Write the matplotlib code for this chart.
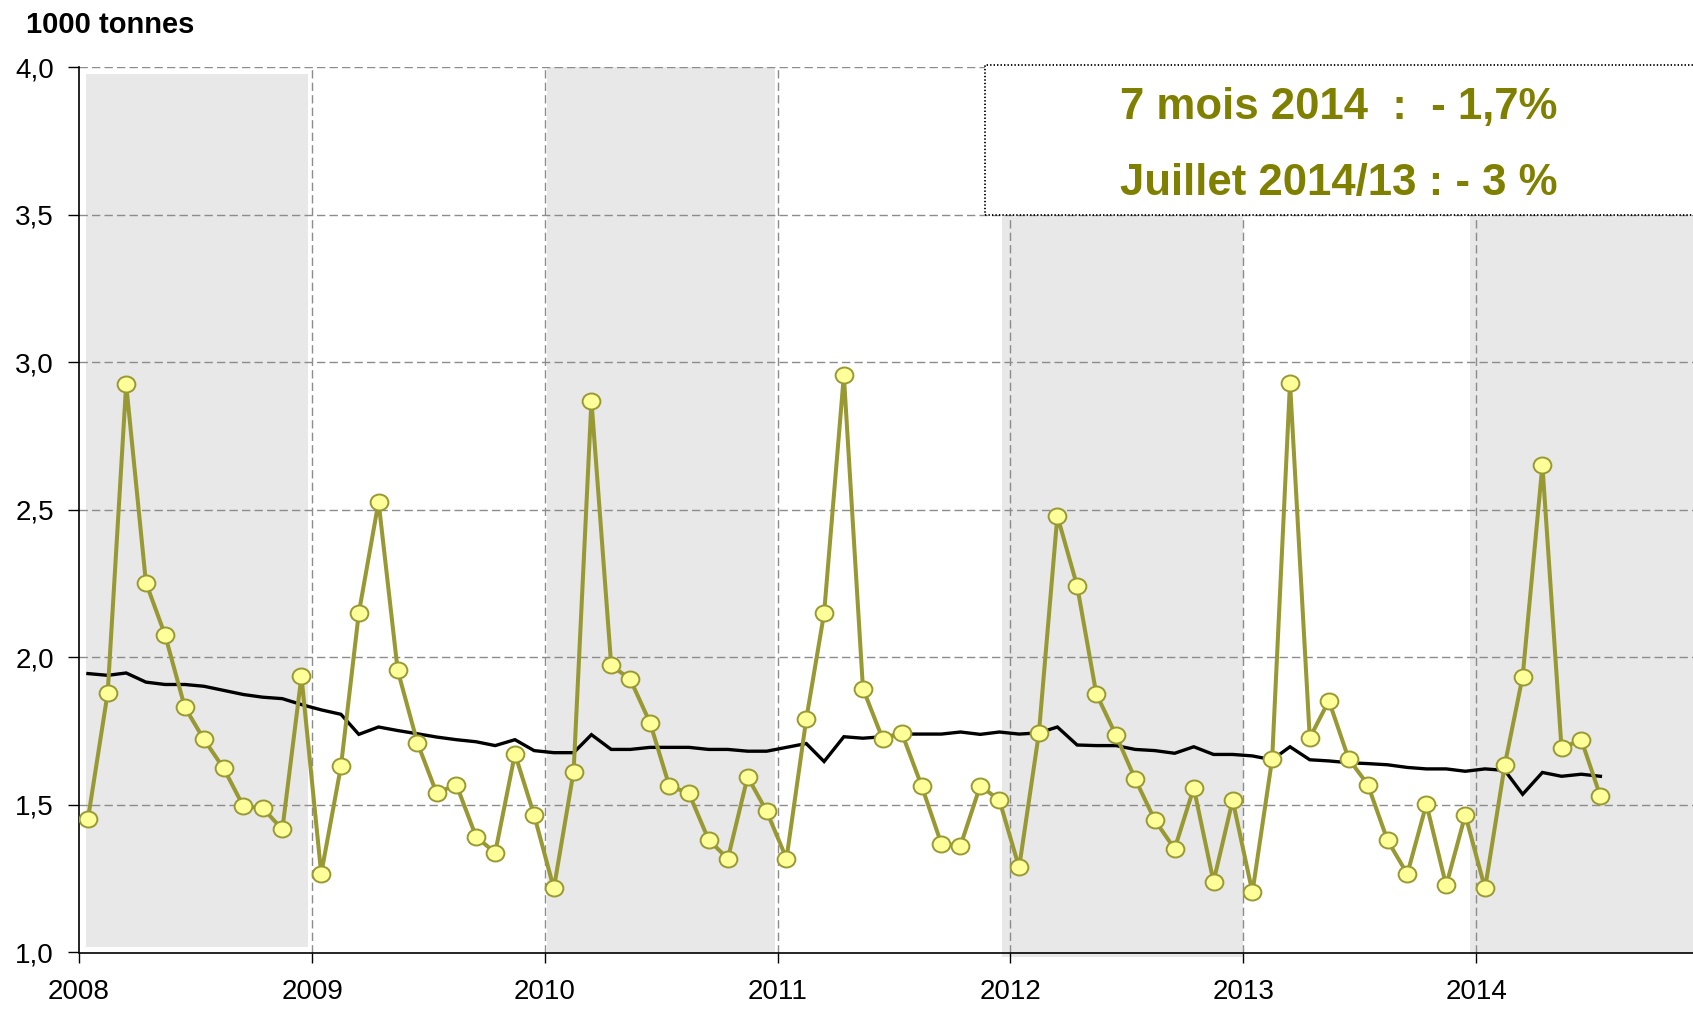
import matplotlib
matplotlib.use("Agg")
import matplotlib.pyplot as plt
import matplotlib.dates as mdates
import matplotlib.ticker as mticker
from matplotlib.patches import Rectangle
from matplotlib.path import Path
from matplotlib.transforms import Affine2D
import pandas as pd

# ---------------- data ----------------
start_month = "2008-01-01"
n_months = 79  # Jan 2008 .. Jul 2014

monthly = [
    1.452, 1.880, 2.925, 2.253, 2.076, 1.831, 1.722, 1.624, 1.495, 1.490, 1.417, 1.936,  # 2008
    1.267, 1.631, 2.150, 2.527, 1.956, 1.710, 1.540, 1.569, 1.392, 1.338, 1.673, 1.466,  # 2009
    1.217, 1.613, 2.870, 1.973, 1.925, 1.778, 1.565, 1.539, 1.381, 1.318, 1.595, 1.478,  # 2010
    1.318, 1.790, 2.149, 2.955, 1.894, 1.723, 1.743, 1.565, 1.368, 1.362, 1.565, 1.516,  # 2011
    1.288, 1.743, 2.479, 2.242, 1.877, 1.736, 1.588, 1.448, 1.351, 1.558, 1.240, 1.516,  # 2012
    1.204, 1.656, 2.931, 1.727, 1.853, 1.656, 1.569, 1.380, 1.266, 1.503, 1.227, 1.466,  # 2013
    1.217, 1.636, 1.935, 2.651, 1.692, 1.721, 1.529,                                     # 2014
]

moving_avg = [
    1.945, 1.939, 1.947, 1.916, 1.908, 1.908, 1.902, 1.888, 1.874, 1.865, 1.860, 1.840,  # 2008
    1.822, 1.807, 1.739, 1.764, 1.752, 1.741, 1.730, 1.721, 1.714, 1.701, 1.721, 1.684,  # 2009
    1.677, 1.677, 1.738, 1.688, 1.688, 1.695, 1.695, 1.695, 1.688, 1.688, 1.682, 1.682,  # 2010
    1.695, 1.708, 1.647, 1.731, 1.726, 1.731, 1.740, 1.740, 1.740, 1.747, 1.739, 1.747,  # 2011
    1.740, 1.744, 1.764, 1.703, 1.701, 1.701, 1.688, 1.684, 1.675, 1.697, 1.671, 1.671,  # 2012
    1.666, 1.653, 1.697, 1.653, 1.649, 1.643, 1.640, 1.636, 1.627, 1.622, 1.622, 1.614,  # 2013
    1.622, 1.617, 1.536, 1.610, 1.597, 1.604, 1.597,                                     # 2014
]

shaded_years = [2008, 2010, 2012, 2014]
year_ticks = [2008, 2009, 2010, 2011, 2012, 2013, 2014]
y_ticks = [1.0, 1.5, 2.0, 2.5, 3.0, 3.5, 4.0]

ylabel_text = "1000 tonnes"
box_line1 = "7 mois 2014  :  - 1,7%"
box_line2 = "Juillet 2014/13 : - 3 %"

# ---------------- style ----------------
W, H, DPI = 1693, 1009, 100
olive = "#999933"
marker_fill = "#FFFF99"
text_olive = "#808000"
band_color = "#E8E8E8"
grid_color = "#8C8C8C"

plt.rcParams["font.family"] = ["Liberation Sans", "DejaVu Sans"]
plt.rcParams["lines.scale_dashes"] = False

fig = plt.figure(figsize=(W / DPI, H / DPI), dpi=DPI)
ax_left, ax_bottom = 79 / W, (H - 952.5) / H
ax_top = 67 / H
ax = fig.add_axes([ax_left, ax_bottom, 1 - ax_left, 1 - ax_top - ax_bottom])

dates = pd.date_range(start_month, periods=n_months, freq="MS") + pd.Timedelta(days=14)

x0 = mdates.date2num(pd.Timestamp("2008-01-01"))
px_per_year = 232.8
x1 = x0 + (W - 79) / px_per_year * 365.25
ax.set_xlim(x0, x1)
ax.set_ylim(1.0, 4.0)

# shaded year bands (layout extents in fractions of a year / value range)
band_extent = {
    2008: (0.03, 0.985, 1.02, 3.975),
    2010: (0.01, 0.99, 1.0, 4.0),
    2012: (-0.035, 1.0, 0.985, 4.0),
    2014: (-0.025, 1.2, 1.0, 4.0),
}
for yr in shaded_years:
    a, b, lo, hi = band_extent[yr]
    xa = x0 + (yr - 2008 + a) * 365.25
    xb = x0 + (yr - 2008 + b) * 365.25
    ax.add_patch(Rectangle((xa, lo), xb - xa, hi - lo, facecolor=band_color,
                           edgecolor="none", zorder=0.2, clip_on=False))

# grid
tick_dates = [mdates.date2num(pd.Timestamp(f"{y}-01-01")) for y in year_ticks]
for t in tick_dates[1:]:
    ax.axvline(t, color=grid_color, lw=1.0, ls=(0, (6, 3)), zorder=0.5)
for yv in y_ticks[1:]:
    ax.axhline(yv, color=grid_color, lw=1.0, ls=(0, (6, 3)), zorder=0.5)

# slightly wide elliptical marker
ellipse = Path.unit_circle().transformed(Affine2D().scale(1.0, 0.9))

# series
ax.plot(dates, moving_avg, color="black", lw=2.4, zorder=3, solid_joinstyle="miter")
ax.plot(dates, monthly, color=olive, lw=2.9, marker=ellipse, markersize=12.8,
        markerfacecolor=marker_fill, markeredgecolor=olive, markeredgewidth=1.4, zorder=4)

# axes style
for s in ["top", "right"]:
    ax.spines[s].set_visible(False)
ax.spines["left"].set_color("black")
ax.spines["bottom"].set_color("black")
ax.spines["left"].set_linewidth(1.2)
ax.spines["bottom"].set_linewidth(1.2)

ax.set_xticks(tick_dates)
ax.set_xticklabels([str(y) for y in year_ticks])
ax.set_yticks(y_ticks)
ax.yaxis.set_major_formatter(mticker.FuncFormatter(lambda v, p: f"{v:.1f}".replace(".", ",")))
ax.tick_params(axis="x", direction="out", length=7, width=1.0, pad=12, labelsize=20)
ax.tick_params(axis="y", direction="out", length=8, width=1.0, pad=10, labelsize=20)
ax.patch.set_alpha(0)

fig.text(26 / W, 1 - 25 / H, ylabel_text, fontsize=21, fontweight="bold",
         ha="left", va="center")

# text box
bx0 = x0 + (985 - 79) / px_per_year * 365.25
ax.add_patch(Rectangle((bx0, 3.5), x1 + 100 - bx0, 0.507, facecolor="white",
                       edgecolor="black", lw=1.3, ls=(0, (1, 1.5)), zorder=5, clip_on=False))
fig.text(1339 / W, 1 - 107 / H, box_line1, fontsize=31.5, fontweight="bold",
         color=text_olive, ha="center", va="center")
fig.text(1339 / W, 1 - 183 / H, box_line2, fontsize=31.5, fontweight="bold",
         color=text_olive, ha="center", va="center")

fig.savefig("out.png", dpi=DPI)
